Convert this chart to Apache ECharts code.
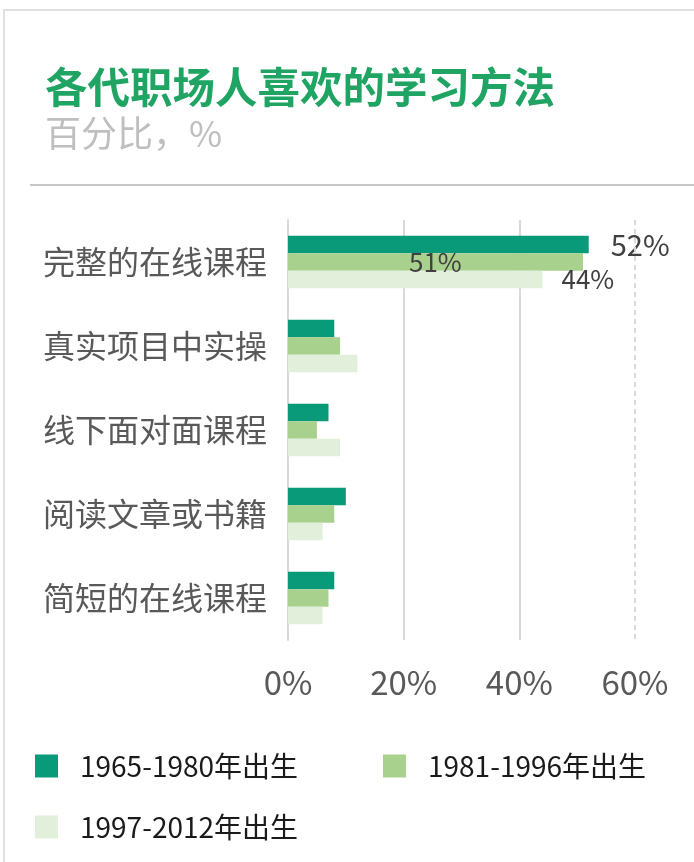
<!DOCTYPE html>
<html>
<head>
<meta charset="utf-8">
<script src="https://cdn.jsdelivr.net/npm/echarts@6/dist/echarts.min.js"></script>
<style>
  html, body { margin: 0; padding: 0; background: #fff; }
  #chart { width: 694px; height: 862px; }
</style>
</head>
<body>
<div id="chart"></div>
<script>
  // 学习方法（自上而下）
  var categories = ['完整的在线课程', '真实项目中实操', '线下面对面课程', '阅读文章或书籍', '简短的在线课程'];
  var seriesNames = ['1965-1980年出生', '1981-1996年出生', '1997-2012年出生'];
  var gen1965 = [52, 8, 7, 10, 8];
  var gen1981 = [51, 9, 5, 8, 7];
  var gen1997 = [44, 12, 9, 6, 6];
  var xTicks = [0, 20, 40, 60];

  var font = 'Noto Sans CJK SC';
  var colors = ['#099a79', '#a9d18e', '#e2efda'];

  // only the first category carries value labels
  var labelStyles = [
    { show: true, position: 'right', distance: 22, fontSize: 29, color: '#404040', fontFamily: font },
    { show: true, position: [121, '50%'], align: 'left', verticalAlign: 'middle', fontSize: 26, color: '#404040', fontFamily: font },
    { show: true, position: 'right', distance: 19, fontSize: 26, color: '#404040', fontFamily: font }
  ];

  function buildData(values, idx) {
    return values.map(function (v, i) {
      if (i === 0) {
        return { value: v, label: Object.assign({ formatter: '{c}%' }, labelStyles[idx]) };
      }
      return v;
    });
  }

  function legendAt(name, left, top) {
    return {
      data: [name],
      left: left,
      top: top,
      padding: 0,
      icon: 'rect',
      itemWidth: 23,
      itemHeight: 23,
      selectedMode: false,
      textStyle: { fontSize: 28, color: '#1a1a1a', fontFamily: font, padding: [0, 0, 0, 17] }
    };
  }

  var chart = echarts.init(document.getElementById('chart'));
  chart.setOption({
    animation: false,
    color: colors,
    title: {
      text: '各代职场人喜欢的学习方法',
      subtext: '百分比，%',
      left: 45,
      top: 64,
      padding: 0,
      itemGap: 3,
      textStyle: { fontSize: 42.5, fontWeight: 'bold', color: '#1fa463', fontFamily: font, lineHeight: 46 },
      subtextStyle: { fontSize: 36, color: '#bfbfbf', fontFamily: font, lineHeight: 40 }
    },
    graphic: [
      { type: 'rect', shape: { x: 4, y: 10, width: 760, height: 920 }, style: { fill: 'none', stroke: '#e0e0e0', lineWidth: 2 } },
      { type: 'line', shape: { x1: 30, y1: 185, x2: 694, y2: 185 }, style: { stroke: '#c8c8c8', lineWidth: 2 } }
    ],
    legend: [
      legendAt(seriesNames[0], 35, 752),
      legendAt(seriesNames[1], 383, 752),
      legendAt(seriesNames[2], 35, 813)
    ],
    grid: { left: 288, right: 59, top: 220, bottom: 222, containLabel: false },
    xAxis: {
      type: 'value',
      min: xTicks[0],
      max: xTicks[xTicks.length - 1],
      interval: xTicks[1] - xTicks[0],
      axisLine: { show: false },
      axisTick: { show: false },
      axisLabel: { formatter: '{value}%', fontSize: 33, color: '#595959', margin: 26, fontFamily: font },
      splitLine: { lineStyle: { color: ['#d9d9d9', '#d9d9d9', '#d9d9d9', 'transparent'], width: 2 } }
    },
    yAxis: {
      type: 'category',
      inverse: true,
      data: categories,
      axisLine: { show: true, lineStyle: { color: '#d9d9d9', width: 2 } },
      axisTick: { show: false },
      axisLabel: { fontSize: 32, color: '#595959', margin: 21, fontFamily: font }
    },
    series: [
      {
        name: seriesNames[0], type: 'bar', barGap: '0%', barCategoryGap: '37.5%',
        data: buildData(gen1965, 0),
        markLine: {
          silent: true, symbol: 'none', label: { show: false },
          lineStyle: { color: '#d9d9d9', type: [5, 4], width: 2 },
          data: [{ xAxis: xTicks[xTicks.length - 1] }]
        }
      },
      { name: seriesNames[1], type: 'bar', barGap: '0%', barCategoryGap: '37.5%', data: buildData(gen1981, 1) },
      { name: seriesNames[2], type: 'bar', barGap: '0%', barCategoryGap: '37.5%', data: buildData(gen1997, 2) }
    ]
  });
</script>
</body>
</html>
